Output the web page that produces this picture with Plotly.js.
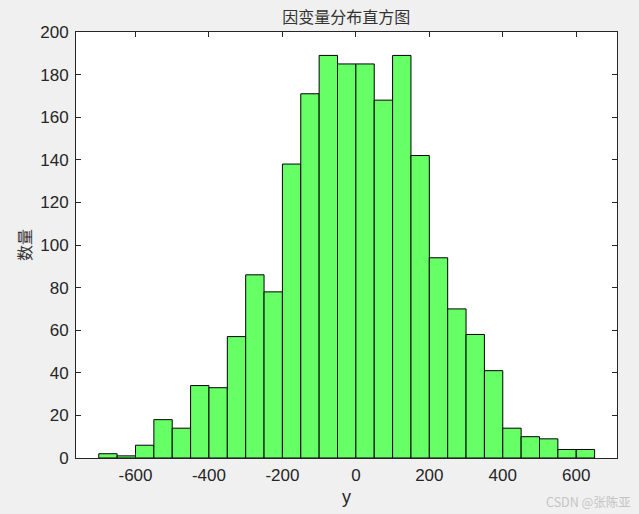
<!DOCTYPE html>
<html>
<head>
<meta charset="utf-8">
<script src="https://cdn.plot.ly/plotly-3.0.1.min.js"></script>
<style>html,body{margin:0;padding:0;background:#f0f0f0;}</style>
</head>
<body>
<div id="chart" style="width:639px;height:514px;"></div>
<script>
// bin left edges (width 50)
const binStarts = [-700,-650,-600,-550,-500,-450,-400,-350,-300,-250,-200,-150,-100,-50,0,50,100,150,200,250,300,350,400,450,500,550,600];
const binWidth = 50;
const counts = [2,1,6,18,14,34,33,57,86,78,138,171,189,185,185,168,189,142,94,70,58,41,14,10,9,4,4];
const xTicks = [-600,-400,-200,0,200,400,600];
const yTicks = [0,20,40,60,80,100,120,140,160,180,200];

const centers = binStarts.map(s => s + binWidth/2);

const trace = {
  type: 'bar',
  x: centers,
  y: counts,
  width: binStarts.map(() => binWidth),
  marker: {color: '#66ff66', line: {color: '#000000', width: 1}},
  hoverinfo: 'x+y'
};

const tickFont = {family: '"Liberation Sans", Arial, sans-serif', size: 17, color: '#262626'};

const layout = {
  width: 639, height: 514,
  paper_bgcolor: '#f0f0f0',
  plot_bgcolor: '#ffffff',
  margin: {l: 76, r: 22, t: 32, b: 56},
  showlegend: false,
  bargap: 0,
  title: {text: '因变量分布直方图', font: {family: '"Noto Sans CJK SC", sans-serif', size: 16, color: '#333333'}, x: 0.542, xanchor: 'center', y: 0.967, yanchor: 'middle'},
  xaxis: {
    range: [-762, 711],
    tickvals: xTicks, ticktext: xTicks.map(String),
    ticks: 'inside', ticklen: 5, tickcolor: '#262626', tickwidth: 1,
    showline: true, linecolor: '#262626', linewidth: 1, mirror: 'ticks',
    showgrid: false, zeroline: false,
    tickfont: tickFont,
    ticklabelstandoff: 2,
    title: {text: 'y', font: {family: '"Liberation Sans", Arial, sans-serif', size: 18, color: '#262626'}, standoff: 5}
  },
  yaxis: {
    range: [0, 200],
    tickvals: yTicks, ticktext: yTicks.map(String),
    ticks: 'inside', ticklen: 5, tickcolor: '#262626', tickwidth: 1,
    showline: true, linecolor: '#262626', linewidth: 1, mirror: 'ticks',
    showgrid: false, zeroline: false,
    tickfont: tickFont,
    ticklabelstandoff: 3,
    title: {text: '数量', font: {family: '"Noto Sans CJK SC", sans-serif', size: 16, color: '#333333'}, standoff: 4}
  },
  annotations: [{
    text: 'CSDN @张陈亚', xref: 'paper', yref: 'paper', x: 1.0296, y: -0.103,
    xanchor: 'right', yanchor: 'middle', showarrow: false,
    font: {family: '"Noto Sans CJK SC", sans-serif', size: 12.5, color: '#c4c4c4'}
  }]
};

Plotly.newPlot('chart', [trace], layout, {displayModeBar: false, staticPlot: true});
</script>
</body>
</html>
